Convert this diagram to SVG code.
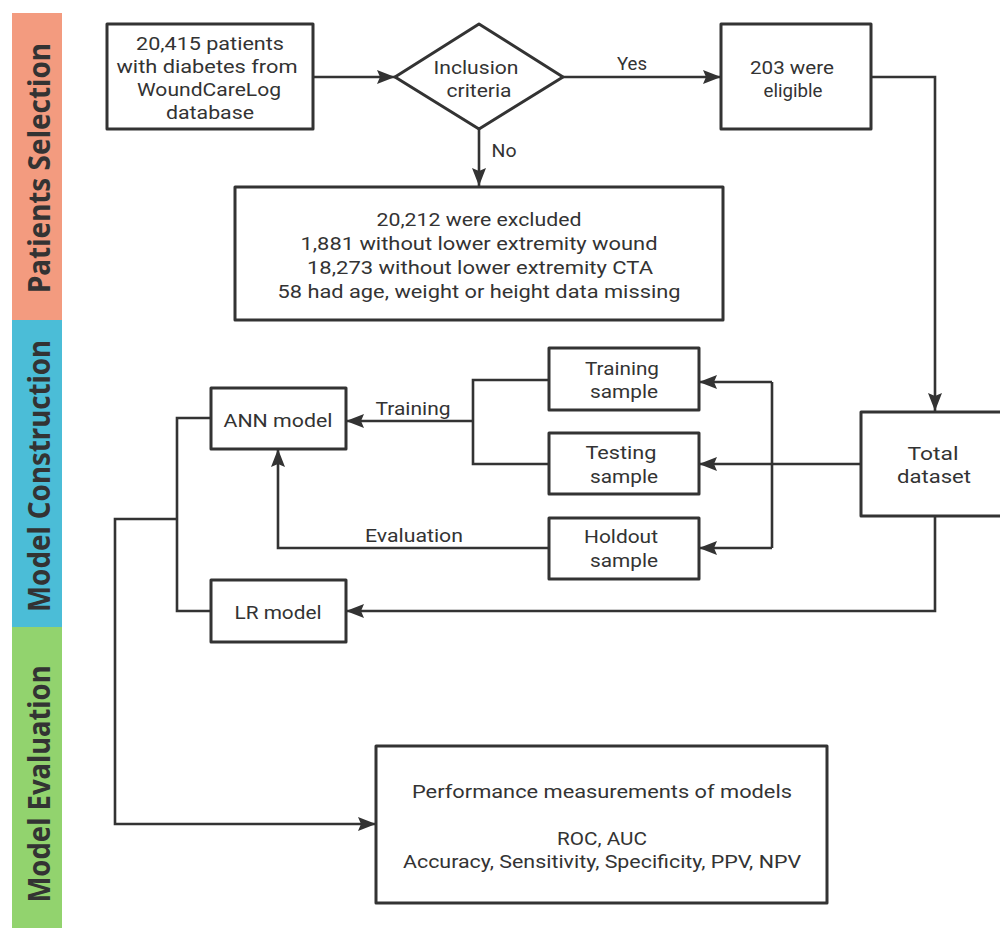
<svg xmlns="http://www.w3.org/2000/svg" width="1000" height="928" viewBox="0 0 1000 928">
<style>
.box{fill:#fff;stroke:#333;stroke-width:3;stroke-linejoin:round}
.t{font-family:Roboto,"Liberation Sans",sans-serif;font-size:19px;fill:#333;text-anchor:middle}
.side{font-family:"Noto Sans","Open Sans","DejaVu Sans",sans-serif;font-size:30px;font-weight:bold;fill:#333;text-anchor:middle}
.c{fill:none;stroke:#333;stroke-width:2.6;stroke-linejoin:miter}
.a{marker-end:url(#arr)}
</style>
<defs>
<marker id="arr" markerUnits="userSpaceOnUse" markerWidth="20" markerHeight="16" refX="18" refY="7" orient="auto">
<path d="M0,0 L18,7 L0,14 L3,7 z" fill="#333"/>
</marker>
</defs>
<rect width="1000" height="928" fill="#fff"/>

<g id="lane-selection">
<rect x="12" y="13" width="50" height="307" fill="#F39B7F"/>
<text class="side" transform="translate(50,168) rotate(-90)" textLength="250" lengthAdjust="spacingAndGlyphs">Patients Selection</text>
</g>
<g id="lane-construction">
<rect x="12" y="320" width="50" height="307" fill="#4BBDD7"/>
<text class="side" transform="translate(50,476) rotate(-90)" textLength="272" lengthAdjust="spacingAndGlyphs">Model Construction</text>
</g>
<g id="lane-evaluation">
<rect x="12" y="627" width="50" height="301" fill="#92D36E"/>
<text class="side" transform="translate(50,784) rotate(-90)" textLength="237" lengthAdjust="spacingAndGlyphs">Model Evaluation</text>
</g>

<g id="connectors">
<path class="c a" d="M313,77 H395"/>
<path class="c a" d="M563,77 H721"/>
<path class="c a" d="M479,129 V186"/>
<path class="c a" d="M871,77 H935 V411"/>
<path class="c a" d="M861,464 H699"/>
<path class="c" d="M772,382 V548"/>
<path class="c a" d="M772,382 H699"/>
<path class="c a" d="M772,548 H699"/>
<path class="c" d="M549,380 H473 V464 H549"/>
<path class="c a" d="M473,421 H346"/>
<path class="c a" d="M549,548 H278 V449"/>
<path class="c a" d="M935,516 V611 H346"/>
<path class="c" d="M211,418 H177 V611 H211"/>
<path class="c a" d="M177,519 H115 V824 H376"/>
<text class="t" x="632" y="70" textLength="30" lengthAdjust="spacingAndGlyphs">Yes</text>
<text class="t" x="504" y="157" textLength="25" lengthAdjust="spacingAndGlyphs">No</text>
<text class="t" x="413" y="415" textLength="75" lengthAdjust="spacingAndGlyphs">Training</text>
<text class="t" x="414" y="542" textLength="98" lengthAdjust="spacingAndGlyphs">Evaluation</text>
</g>

<g id="source">
<rect class="box" x="107" y="24" width="206" height="105"/>
<text class="t" x="210" y="50" textLength="148" lengthAdjust="spacingAndGlyphs">20,415 patients</text>
<text class="t" x="207" y="73" textLength="181" lengthAdjust="spacingAndGlyphs">with diabetes from</text>
<text class="t" x="209" y="96" textLength="144" lengthAdjust="spacingAndGlyphs">WoundCareLog</text>
<text class="t" x="210" y="119" textLength="88" lengthAdjust="spacingAndGlyphs">database</text>
</g>

<g id="inclusion">
<polygon class="box" points="479,24 563,77 479,129 395,77"/>
<text class="t" x="476" y="74" textLength="85" lengthAdjust="spacingAndGlyphs">Inclusion</text>
<text class="t" x="479" y="97" textLength="65" lengthAdjust="spacingAndGlyphs">criteria</text>
</g>

<g id="eligible">
<rect class="box" x="721" y="24" width="150" height="105"/>
<text class="t" x="792" y="74" textLength="84" lengthAdjust="spacingAndGlyphs">203 were</text>
<text class="t" x="793" y="97" textLength="59" lengthAdjust="spacingAndGlyphs">eligible</text>
</g>

<g id="excluded">
<rect class="box" x="235" y="187" width="488" height="133"/>
<text class="t" x="479" y="226" textLength="205" lengthAdjust="spacingAndGlyphs">20,212 were excluded</text>
<text class="t" x="479" y="250" textLength="357" lengthAdjust="spacingAndGlyphs">1,881 without lower extremity wound</text>
<text class="t" x="480" y="274" textLength="346" lengthAdjust="spacingAndGlyphs">18,273 without lower extremity CTA</text>
<text class="t" x="479" y="298" textLength="403" lengthAdjust="spacingAndGlyphs">58 had age, weight or height data missing</text>
</g>

<g id="total">
<rect class="box" x="861" y="412" width="150" height="104"/>
<text class="t" x="933" y="460" textLength="51" lengthAdjust="spacingAndGlyphs">Total</text>
<text class="t" x="934" y="483" textLength="74" lengthAdjust="spacingAndGlyphs">dataset</text>
</g>

<g id="training">
<rect class="box" x="549" y="348" width="150" height="62"/>
<text class="t" x="622" y="375" textLength="74" lengthAdjust="spacingAndGlyphs">Training</text>
<text class="t" x="624" y="398" textLength="68" lengthAdjust="spacingAndGlyphs">sample</text>
</g>

<g id="testing">
<rect class="box" x="549" y="433" width="150" height="61"/>
<text class="t" x="621" y="459" textLength="71" lengthAdjust="spacingAndGlyphs">Testing</text>
<text class="t" x="624" y="483" textLength="68" lengthAdjust="spacingAndGlyphs">sample</text>
</g>

<g id="holdout">
<rect class="box" x="549" y="518" width="150" height="61"/>
<text class="t" x="621" y="543" textLength="74" lengthAdjust="spacingAndGlyphs">Holdout</text>
<text class="t" x="624" y="567" textLength="68" lengthAdjust="spacingAndGlyphs">sample</text>
</g>

<g id="ann">
<rect class="box" x="211" y="388" width="135" height="61"/>
<text class="t" x="278" y="427" textLength="109" lengthAdjust="spacingAndGlyphs">ANN model</text>
</g>

<g id="lr">
<rect class="box" x="211" y="580" width="135" height="62"/>
<text class="t" x="278" y="619" textLength="87" lengthAdjust="spacingAndGlyphs">LR model</text>
</g>

<g id="performance">
<rect class="box" x="376" y="746" width="451" height="157"/>
<text class="t" x="602" y="798" textLength="380" lengthAdjust="spacingAndGlyphs">Performance measurements of models</text>
<text class="t" x="602" y="845" textLength="90" lengthAdjust="spacingAndGlyphs">ROC, AUC</text>
<text class="t" x="602" y="868" textLength="398" lengthAdjust="spacingAndGlyphs">Accuracy, Sensitivity, Specificity, PPV, NPV</text>
</g>
</svg>
